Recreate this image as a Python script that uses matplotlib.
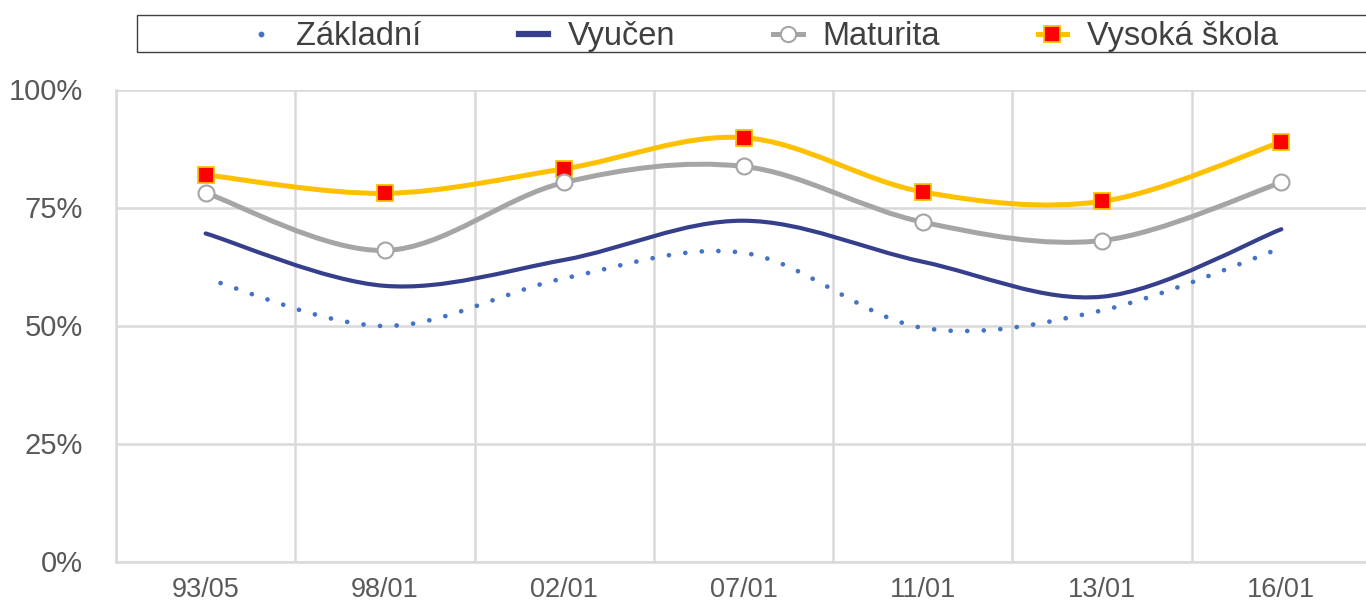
import numpy as np
import matplotlib
matplotlib.use('Agg')
import matplotlib.pyplot as plt
from matplotlib.path import Path
from matplotlib.patches import PathPatch, Rectangle
from matplotlib.lines import Line2D

plt.rcParams['font.family'] = ['Liberation Sans', 'DejaVu Sans']

# data (percent)
obdobi = ['93/05', '98/01', '02/01', '07/01', '11/01', '13/01', '16/01']
zakladni = [60.0, 49.9, 60.0, 65.4, 49.5, 53.2, 66.4]
vyucen = [69.5, 58.4, 63.9, 72.2, 63.5, 56.1, 70.4]
maturita = [78.1, 65.9, 80.3, 83.7, 71.9, 68.0, 80.3]
vysoka = [81.9, 78.0, 83.2, 89.8, 78.3, 76.3, 88.9]
nazvy = ['Základní', 'Vyučen', 'Maturita', 'Vysoká škola']

c_zak = '#4472C4'
c_vyu = '#353F8C'
c_mat = '#A5A5A5'
c_vys = '#FFC000'


def smooth_path(ys):
    # excel-like smoothed line: bezier segments, catmull-rom tangents /6
    xs = np.arange(len(ys), dtype=float)
    ys = np.asarray(ys, dtype=float)
    n = len(xs)
    verts = [(xs[0], ys[0])]
    codes = [Path.MOVETO]
    for i in range(n - 1):
        i0 = max(i - 1, 0)
        i3 = min(i + 2, n - 1)
        c1 = (xs[i] + (xs[i + 1] - xs[i0]) / 6, ys[i] + (ys[i + 1] - ys[i0]) / 6)
        c2 = (xs[i + 1] - (xs[i3] - xs[i]) / 6, ys[i + 1] - (ys[i3] - ys[i]) / 6)
        verts += [c1, c2, (xs[i + 1], ys[i + 1])]
        codes += [Path.CURVE4] * 3
    return Path(verts, codes)


fig = plt.figure(figsize=(13.66, 6.03), dpi=100)
ax = fig.add_axes([116 / 1366, 41.5 / 603, 1255 / 1366, 472 / 603])
x = np.arange(len(obdobi))

ax.add_patch(PathPatch(smooth_path(zakladni), fill=False, edgecolor=c_zak, lw=3.4,
                       linestyle=(0.2, (0.01, 3.5)), capstyle='round', zorder=3))
ax.add_patch(PathPatch(smooth_path(vyucen), fill=False, edgecolor=c_vyu, lw=3.0,
                       capstyle='round', zorder=4))
ax.add_patch(PathPatch(smooth_path(vysoka), fill=False, edgecolor=c_vys, lw=3.6,
                       capstyle='round', zorder=5))
ax.add_patch(PathPatch(smooth_path(maturita), fill=False, edgecolor=c_mat, lw=3.6,
                       capstyle='round', zorder=6))
ax.plot(x, vysoka, ls='none', marker='s', ms=11.5, mfc='#FF0000', mec=c_vys, mew=1.3, zorder=7)
ax.plot(x, maturita, ls='none', marker='o', ms=11.5, mfc='white', mec=c_mat, mew=1.5, zorder=8)

ax.set_xlim(-0.5, 6.5)
ax.set_ylim(0, 100)
ax.set_xticks(x)
ax.set_xticklabels(obdobi)
ax.set_xticks(np.arange(-0.5, 7, 1), minor=True)
ax.set_yticks([0, 25, 50, 75, 100])
ax.set_yticklabels(['0%', '25%', '50%', '75%', '100%'])
ax.tick_params(axis='x', which='both', length=0, pad=11, labelsize=19.5, labelcolor='#595959')
ax.tick_params(axis='y', length=0, pad=24, labelsize=21, labelcolor='#595959')
ax.grid(axis='y', which='major', color='#D9D9D9', lw=1.8)
ax.grid(axis='x', which='minor', color='#D9D9D9', lw=1.8)
ax.grid(axis='x', which='major', visible=False)
for s in ['top', 'right']:
    ax.spines[s].set_visible(False)
for s in ['left', 'bottom']:
    ax.spines[s].set_color('#D9D9D9')
    ax.spines[s].set_linewidth(1.8)
ax.set_axisbelow(True)

handles = [
    Line2D([], [], ls='none', marker='o', ms=3.2, color=c_zak),
    Line2D([], [], color=c_vyu, lw=4.5),
    Line2D([], [], color=c_mat, lw=3.6, marker='o', ms=11, mfc='white', mec=c_mat, mew=1.5),
    Line2D([], [], color=c_vys, lw=3.6, marker='s', ms=11, mfc='#FF0000', mec=c_vys, mew=1.3),
]
leg = fig.legend(handles, nazvy, loc='center', bbox_to_anchor=(0.558, 0.939), ncol=4,
                 frameon=False, fontsize=23.5, handlelength=0.9, handletextpad=0.6,
                 columnspacing=3.0, labelcolor='#404040')
fig.add_artist(Rectangle((137 / 1366, 1 - 52 / 603), (1370 - 137) / 1366, 37 / 603,
                         transform=fig.transFigure, fill=False, edgecolor='#404040', lw=1))

fig.savefig('out.png', dpi=100)
